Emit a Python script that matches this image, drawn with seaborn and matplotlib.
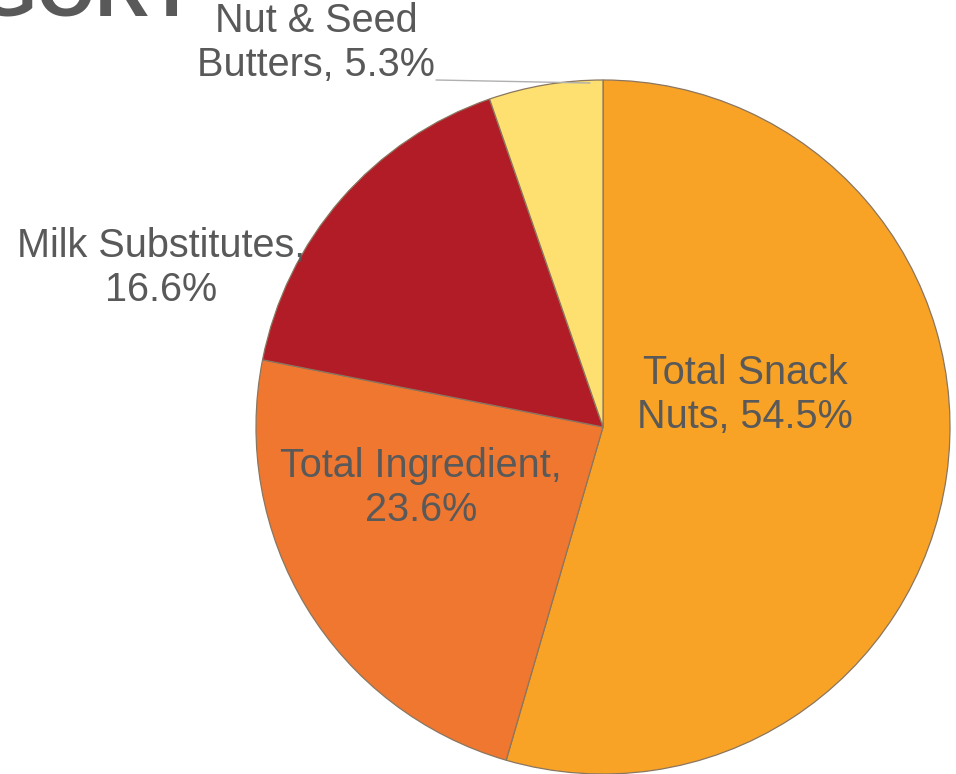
import numpy as np
import matplotlib.pyplot as plt
import seaborn as sns

# segment shares, clockwise from 12 o'clock
categories = ["Total Snack Nuts", "Total Ingredient", "Milk Substitutes", "Nut & Seed Butters"]
shares = [54.5, 23.6, 16.6, 5.3]
colors = ["#F9A326", "#F07730", "#B21C26", "#FDE06F"]

sns.set_style("white")
plt.rcParams["font.family"] = ["Liberation Sans", "DejaVu Sans"]
text_color = "#595959"

W, H = 956, 774
fig = plt.figure(figsize=(W / 100, H / 100), dpi=100)
ax = fig.add_axes([0, 0, 1, 1])

cx, cy, r = 603, H - 427, 347
wedges, _ = ax.pie(
    shares,
    colors=colors,
    startangle=90,
    counterclock=False,
    center=(cx, cy),
    radius=r,
    frame=True,
    wedgeprops=dict(edgecolor="#8a7660", linewidth=0.9),
)
ax.set_xlim(0, W)
ax.set_ylim(0, H)
ax.set_aspect("equal")
ax.axis("off")

fs = 28.5
ls = 1.17
ax.text(745, H - 395, f"Total Snack\nNuts, {shares[0]}%", ha="center", va="center",
        fontsize=fs, color=text_color, linespacing=ls)
ax.text(421, H - 488, f"Total Ingredient,\n{shares[1]}%", ha="center", va="center",
        fontsize=fs, color=text_color, linespacing=ls)
ax.text(161, H - 268, f"Milk Substitutes,\n{shares[2]}%", ha="center", va="center",
        fontsize=fs, color=text_color, linespacing=ls)
ax.text(316, H - 43, f"Nut & Seed\nButters, {shares[3]}%", ha="center", va="center",
        fontsize=fs, color=text_color, linespacing=ls)

# leader line for the small slice
ax.plot([436, 590], [H - 80, H - 83], color="#b0b0b0", linewidth=1)

# clipped title at the top edge
ax.text(198, H - 15, "CATEGORY", ha="right", va="baseline", fontsize=54,
        fontweight="bold", color=text_color)

fig.savefig("out.png", dpi=100)
